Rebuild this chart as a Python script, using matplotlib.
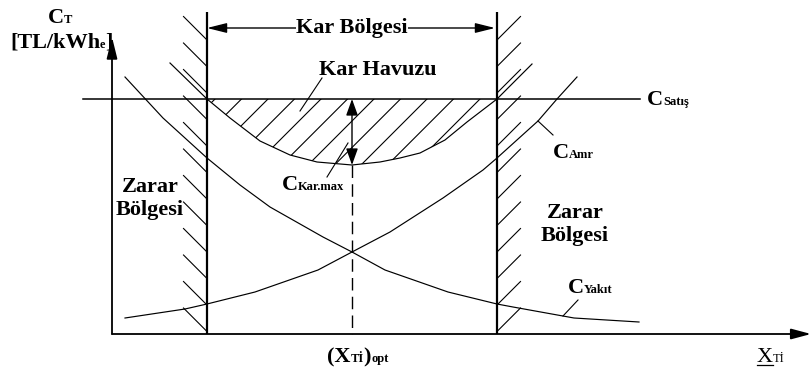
import matplotlib
matplotlib.use("Agg")
import matplotlib.pyplot as plt
import numpy as np
from matplotlib.patches import Polygon

# ---------------- data (schematic, in drawing units) ----------------
yakit_x = [125, 163, 207, 240, 270, 323, 352, 385, 448, 497, 513, 574, 639]
yakit_y = [77, 118, 158, 185, 207, 237, 252, 270, 292, 304, 307, 318, 322]
amr_x = [125, 185, 207, 255, 318, 352, 390, 443, 483, 497, 538, 557, 577]
amr_y = [318, 309, 304, 292, 270, 252, 232, 198, 170, 158, 121, 99, 77]
total_x = [170, 207, 230, 260, 290, 317, 352, 380, 400, 420, 445, 467, 497, 532]
total_y = [63, 99, 118, 141, 155, 162, 165, 162, 158, 153, 140, 122, 99, 64]
satis_level = 99
satis_span = (83, 640)
kar_left, kar_right = 207, 497
x_opt = 352
kar_min = 165
axis_origin = (112, 334)
axis_end = (811, 37)
wall_top = 12
hatch_rows = np.arange(40, 334, 26.5)
pool_hatch_x = np.arange(215, 497, 26.5)

FONT = "Liberation Serif"
BIG, SMALL = 16, 9

fig = plt.figure(figsize=(8.11, 3.69), dpi=100)
ax = fig.add_axes([0, 0, 1, 1])
ax.set_xlim(0, 811)
ax.set_ylim(369, 0)
ax.axis("off")

K = "black"


def arrow(tail, tip, style, hl, hw, lw):
    ax.annotate("", xy=tip, xytext=tail,
                arrowprops=dict(arrowstyle=f"{style},head_length={hl},head_width={hw}",
                                lw=lw, color=K, shrinkA=0, shrinkB=0,
                                mutation_scale=1))


def label(x, y, parts, ha="left"):
    prev = None
    for s, size in parts:
        kw = dict(fontsize=size, fontweight="bold", family=FONT, color=K,
                  va="baseline", ha="left")
        if prev is None:
            prev = ax.text(x, y, s, **kw)
        else:
            prev = ax.annotate(s, xy=(1, y), xycoords=(prev, "data"), **kw)
    return prev


# axes
arrow(axis_origin, (axis_origin[0], axis_end[1]), "-|>", 13, 3.2, 1.3)
arrow(axis_origin, (axis_end[0], axis_origin[1]), "-|>", 12, 3.2, 1.3)

# walls
for xw in (kar_left, kar_right):
    ax.plot([xw, xw], [wall_top, axis_origin[1]], color=K, lw=1.6,
            solid_capstyle="butt")
for r in hatch_rows:
    ax.plot([kar_left - 23.5, kar_left], [r - 23.5, r], color=K, lw=0.8)
    ax.plot([kar_right, kar_right + 23.5], [r, r - 23.5], color=K, lw=0.8)

# selling price line
ax.plot(satis_span, [satis_level, satis_level], color=K, lw=1.1)

# cost curves
ax.plot(yakit_x, yakit_y, color=K, lw=0.85)
ax.plot(amr_x, amr_y, color=K, lw=0.85)
ax.plot(total_x, total_y, color=K, lw=0.85)

# profit pool hatching
tx = np.array(total_x)
ty = np.array(total_y)
m = (tx >= kar_left) & (tx <= kar_right)
pool = Polygon(np.column_stack([tx[m], ty[m]]), closed=True, fill=False,
               edgecolor="none")
ax.add_patch(pool)
for xt in pool_hatch_x:
    ln, = ax.plot([xt, xt - 90], [satis_level, satis_level + 90], color=K, lw=0.8)
    ln.set_clip_path(pool)

# optimum dashed line and max-profit arrow
ax.plot([x_opt, x_opt], [kar_min, axis_origin[1]], color=K, lw=1.0,
        dashes=(9, 4.5))
arrow((x_opt, kar_min), (x_opt, satis_level), "<|-|>", 10, 3.6, 1.0)

# profit region arrow
arrow((kar_left, 28), (kar_right - 2, 28), "<|-|>", 12, 3.0, 1.0)
ax.text(352, 33, "Kar Bölgesi", fontsize=BIG, fontweight="bold", family=FONT,
        ha="center", va="baseline",
        bbox=dict(facecolor="white", edgecolor="none", pad=0.5))

# text labels
ax.text(378, 75, "Kar Havuzu", fontsize=BIG, fontweight="bold", family=FONT,
        ha="center", va="baseline")
ax.plot([322, 300], [78, 111], color=K, lw=0.8)

label(48, 23, [("C", BIG), ("T", SMALL)])
label(10, 48, [("[TL/kWh", BIG), ("e", SMALL), ("]", BIG)])
label(647, 105, [("C", BIG), ("Satış", SMALL)])
label(553, 158, [("C", BIG), ("Amr", SMALL)])
ax.plot([538, 553], [121, 135], color=K, lw=0.8)
label(568, 293, [("C", BIG), ("Yakıt", SMALL)])
ax.plot([563, 578], [316, 300], color=K, lw=0.8)
label(282, 190, [("C", BIG), ("Kar.max", SMALL)])
ax.plot([327, 348], [177, 143], color=K, lw=0.8)

for cx, y1 in ((150, 192), (575, 218)):
    ax.text(cx, y1, "Zarar", fontsize=BIG, fontweight="bold", family=FONT,
            ha="center", va="baseline")
    ax.text(cx, y1 + 23, "Bölgesi", fontsize=BIG, fontweight="bold", family=FONT,
            ha="center", va="baseline")

label(327, 362, [("(X", BIG), ("Tİ", SMALL), (")", BIG), ("opt", SMALL)])

xt_txt = ax.text(757, 362, "X", fontsize=BIG, family=FONT, color=K,
                 va="baseline", ha="left")
ax.annotate("Tİ", xy=(1, 362), xycoords=(xt_txt, "data"), fontsize=SMALL,
            family=FONT, color=K, va="baseline", ha="left")
fig.canvas.draw()
bb = xt_txt.get_window_extent().transformed(ax.transData.inverted())
ax.plot([bb.x0, bb.x1], [365, 365], color=K, lw=0.9)

fig.savefig("out.png", dpi=100)
